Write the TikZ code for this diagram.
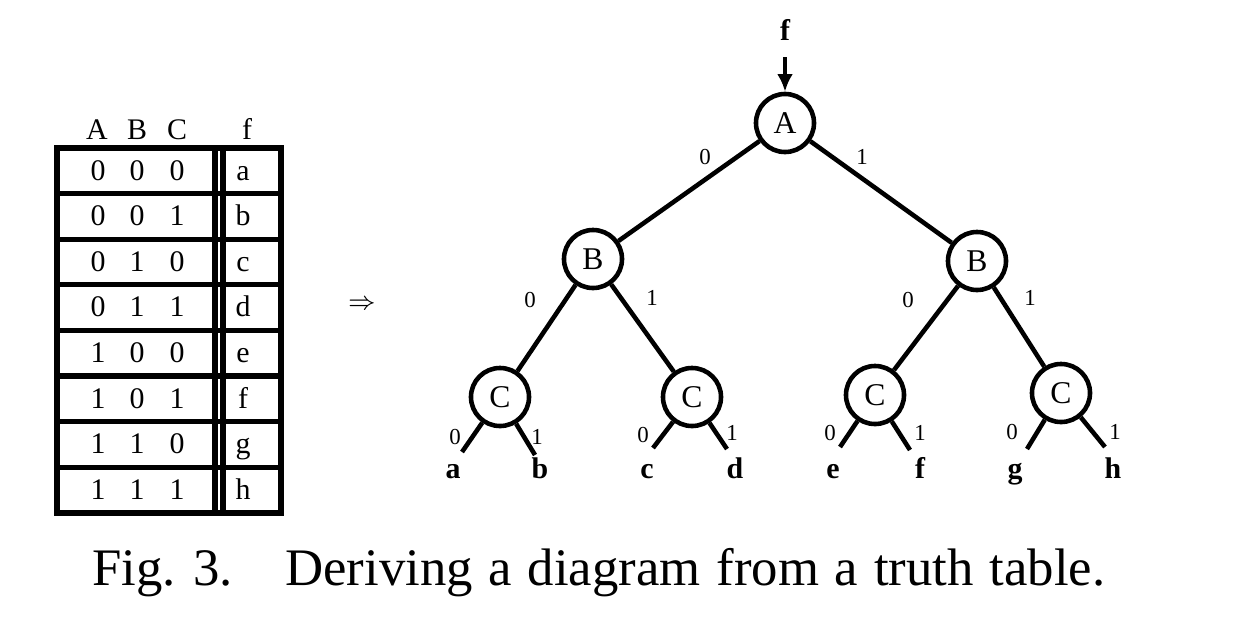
\documentclass[tikz,border=0pt]{standalone}
\usepackage{fontspec}
\setmainfont{Liberation Serif}
\usetikzlibrary{arrows.meta}

\begin{document}
\begin{tikzpicture}[x=0.01cm,y=-0.01cm,line width=1.3pt,
	vert/.style={circle,draw,line width=1.3pt,minimum size=0.58cm,inner sep=0pt,font=\fontsize{9}{9}\selectfont},
	leaf/.style={anchor=base,font=\fontsize{8.5}{9}\selectfont\bfseries},
	bit/.style={font=\fontsize{6.5}{7}\selectfont},
	cell/.style={anchor=base,font=\fontsize{8.5}{9}\selectfont},
	grid/.style={line width=1.5pt}]
	\useasboundingbox (0,0) rectangle (1254,627);
	\def\rowh{45.6}
	
	% truth table
	\node[cell] (hA) at (97,139) {A};
	\node[cell] (hB) at (137,139) {B};
	\node[cell] (hC) at (177,139) {C};
	\node[cell] (hf) at (247,139) {f};
	\draw[grid] (57,148) rectangle (281,513);
	\foreach \i in {1,...,7}
		\draw[grid] (57,148+\i*\rowh) -- (281,148+\i*\rowh);
	\draw[grid] (215,148) -- (215,513);
	\draw[grid] (223,148) -- (223,513);
	\foreach \a/\b/\c/\f [count=\i from 0] in {0/0/0/a,0/0/1/b,0/1/0/c,0/1/1/d,1/0/0/e,1/0/1/f,1/1/0/g,1/1/1/h}{
		\node[cell] at (98,180+\i*\rowh) {\a};
		\node[cell] at (137,180+\i*\rowh) {\b};
		\node[cell] at (177,180+\i*\rowh) {\c};
		\node[cell] at (243,180+\i*\rowh) {\f};
	}
	
	\node (imp) at (362,305) {\fontsize{7}{7}\selectfont$\Rightarrow$};
	
	% decision tree
	\node[vert] (A) at (785,123) {A};
	\node[vert] (B0) at (593,259) {B};
	\node[vert] (B1) at (977,261) {B};
	\node[vert] (C00) at (500,397) {C};
	\node[vert] (C01) at (692,397) {C};
	\node[vert] (C10) at (875,395) {C};
	\node[vert] (C11) at (1061,393) {C};
	
	\node[leaf] (top) at (785,40) {f};
	\draw[-{Latex[length=5pt,width=4.5pt]},shorten <=0.03cm] (top) -- (A);
	
	\draw (A) -- (B0);
	\draw (A) -- (B1);
	\draw (B0) -- (C00);
	\draw (B0) -- (C01);
	\draw (B1) -- (C10);
	\draw (B1) -- (C11);
	
	\node[bit] at (705,157) {0};
	\node[bit] at (862,157) {1};
	\node[bit] at (530,300) {0};
	\node[bit] at (652,298) {1};
	\node[bit] at (908,300) {0};
	\node[bit] at (1030,298) {1};
	
	% leaves
	\coordinate (ea) at (462,452);
	\coordinate (eb) at (535,455);
	\coordinate (ec) at (653,448);
	\coordinate (ed) at (727,449);
	\coordinate (ee) at (840,447);
	\coordinate (ef) at (910,450);
	\coordinate (eg) at (1027,449);
	\coordinate (eh) at (1105,447);
	\foreach \p/\l/\r in {C00/a/b,C01/c/d,C10/e/f,C11/g/h}{
		\draw (\p) -- (e\l);
		\draw (\p) -- (e\r);
	}
	\foreach \l/\x in {a/453,b/540,c/647,d/735,e/833,f/920,g/1015,h/1113}
		\node[leaf] (\l) at (\x,478) {\l};
	\foreach \x/\y/\v in {455/437/0,537/437/1,643/435/0,732/433/1,830/433/0,920/433/1,1012/432/0,1115/432/1}
		\node[bit] at (\x,\y) {\v};
	
	% caption
	\node[anchor=base west,inner sep=0pt,font=\fontsize{15}{17}\selectfont] (fig) at (90,585) {Fig. 3.};
	\node[anchor=base west,inner sep=0pt,font=\fontsize{15}{17}\selectfont] (cap) at (283,585) {Deriving\hspace{0.05em} a\hspace{0.05em} diagram\hspace{0.05em} from\hspace{0.05em} a\hspace{0.05em} truth\hspace{0.05em} table.};
\end{tikzpicture}
\end{document}
